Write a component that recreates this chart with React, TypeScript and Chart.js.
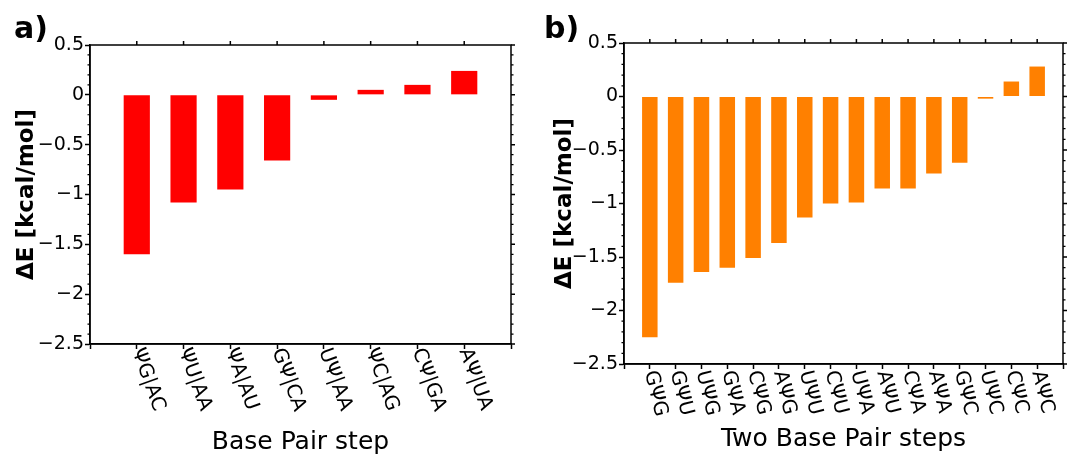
import React, { useEffect, useRef } from 'react';
import { Chart, registerables } from 'chart.js';

Chart.register(...registerables);

// ---------- data ----------
const stepsA = ['ΨG|AC', 'ΨU|AA', 'ΨA|AU', 'GΨ|CA', 'UΨ|AA', 'ΨC|AG', 'CΨ|GA', 'AΨ|UA'];
const energyA = [-1.6, -1.08, -0.95, -0.66, -0.05, 0.05, 0.1, 0.24];

const stepsB = ['GΨG', 'GΨU', 'UΨG', 'GΨA', 'CΨG', 'AΨG', 'UΨU', 'CΨU', 'UΨA', 'AΨU', 'CΨA', 'AΨA', 'GΨC', 'UΨC', 'CΨC', 'AΨC'];
const energyB = [-2.25, -1.74, -1.64, -1.6, -1.51, -1.37, -1.13, -1.0, -0.99, -0.86, -0.86, -0.72, -0.62, -0.02, 0.14, 0.28];

const yTicks = [0.5, 0, -0.5, -1, -1.5, -2, -2.5];
const yTitle = 'ΔE [kcal/mol]';
const xTitleA = 'Base Pair step';
const xTitleB = 'Two Base Pair steps';

const FONT = "'DejaVu Sans', sans-serif";

type Panel = {
  letter: string;
  categories: string[];
  values: number[];
  color: string;
  xTitle: string;
  width: number;
  barPct: number;
  yAxisWidth: number;
  xAxisHeight: number;
  padTop: number;
  padRight: number;
  yTitlePad: number;
  xTitlePad: number;
  labelRot: number;
  labelGap: number;
  labelSize: number;
  letterX: number;
  letterY: number;
};

const panelA: Panel = {
  letter: 'a)', categories: stepsA, values: energyA, color: '#ff0000', xTitle: xTitleA,
  width: 535, barPct: 0.56, yAxisWidth: 90, xAxisHeight: 114, padTop: 45, padRight: 24,
  yTitlePad: 13, xTitlePad: 1, labelRot: 70, labelGap: 5, labelSize: 20, letterX: 14, letterY: 38,
};
const panelB: Panel = {
  letter: 'b)', categories: stepsB, values: energyB, color: '#ff8000', xTitle: xTitleB,
  width: 537, barPct: 0.6, yAxisWidth: 89, xAxisHeight: 94, padTop: 43, padRight: 9,
  yTitlePad: 16, xTitlePad: 4, labelRot: 76, labelGap: 7, labelSize: 20, letterX: 9, letterY: 38,
};

const fmt = (v: number) => (v < 0 ? '\u2212' + String(Math.abs(v)) : String(v));

function makeFramePlugin(p: Panel) {
  return {
    id: 'frame_' + p.letter,
    afterDraw(chart: any) {
      const { ctx, chartArea } = chart;
      const xs = chart.scales.x;
      const ys = chart.scales.y;
      const { left, right, top, bottom } = chartArea;
      ctx.save();
      ctx.strokeStyle = '#000';
      ctx.lineWidth = 1.5;
      ctx.strokeRect(left, top, right - left, bottom - top);
      // top ticks (mirror of categories)
      ctx.beginPath();
      for (let i = 1; i <= p.categories.length; i++) {
        const x = xs.getPixelForValue(i);
        ctx.moveTo(x, top);
        ctx.lineTo(x, top - 4);
      }
      // right major ticks
      yTicks.forEach((v) => {
        const y = ys.getPixelForValue(v);
        ctx.moveTo(right, y);
        ctx.lineTo(right + 4, y);
      });
      ctx.stroke();
      // minor ticks every 0.1
      ctx.beginPath();
      ctx.lineWidth = 1.2;
      for (let k = -24; k <= 4; k++) {
        if (k % 5 === 0) continue;
        const y = ys.getPixelForValue(k / 10);
        ctx.moveTo(left, y);
        ctx.lineTo(left - 2.5, y);
        ctx.moveTo(right, y);
        ctx.lineTo(right + 2.5, y);
      }
      ctx.stroke();
      // rotated category labels (reading downward)
      ctx.fillStyle = '#000';
      ctx.font = `${p.labelSize}px ${FONT}`;
      ctx.textAlign = 'left';
      ctx.textBaseline = 'middle';
      p.categories.forEach((lab, i) => {
        const x = xs.getPixelForValue(i + 1);
        ctx.save();
        ctx.translate(x, bottom + p.labelGap);
        ctx.rotate((p.labelRot * Math.PI) / 180);
        ctx.fillText(lab, 0, 0);
        ctx.restore();
      });
      // panel letter
      ctx.font = `bold 30px ${FONT}`;
      ctx.textBaseline = 'alphabetic';
      ctx.fillText(p.letter, p.letterX, p.letterY);
      ctx.restore();
    },
  };
}

function BarPanel({ p }: { p: Panel }) {
  const ref = useRef<HTMLCanvasElement | null>(null);
  useEffect(() => {
    if (!ref.current) return;
    const labels = ['', ...p.categories, ''];
    const data = [null, ...p.values, null];
    const chart = new Chart(ref.current, {
      type: 'bar',
      data: {
        labels,
        datasets: [
          {
            data,
            backgroundColor: p.color,
            borderWidth: 0,
            barPercentage: p.barPct,
            categoryPercentage: 1,
          },
        ],
      },
      options: {
        responsive: false,
        animation: false,
        devicePixelRatio: 1,
        layout: { padding: { top: p.padTop, right: p.padRight, left: 0, bottom: 0 } },
        plugins: { legend: { display: false }, tooltip: { enabled: false } },
        scales: {
          x: {
            offset: false,
            grid: {
              offset: false,
              drawOnChartArea: false,
              drawTicks: true,
              tickLength: 5,
              tickColor: '#000',
              tickWidth: 1.5,
            },
            border: { display: true, color: '#000', width: 1.5 },
            ticks: { display: false },
            title: {
              display: true,
              text: p.xTitle,
              color: '#000',
              font: { family: FONT, size: 25 },
              padding: { top: 0, bottom: p.xTitlePad },
            },
            afterFit: (s: any) => {
              s.height = p.xAxisHeight;
            },
          },
          y: {
            min: -2.5,
            max: 0.5,
            afterBuildTicks: (s: any) => {
              s.ticks = yTicks.map((v) => ({ value: v }));
            },
            ticks: {
              callback: (v: any) => fmt(Number(v)),
              color: '#000',
              font: { family: FONT, size: 19 },
              padding: 1,
            },
            grid: {
              drawOnChartArea: false,
              drawTicks: true,
              tickLength: 5,
              tickColor: '#000',
              tickWidth: 1.5,
            },
            border: { display: true, color: '#000', width: 1.5 },
            title: {
              display: true,
              text: yTitle,
              color: '#000',
              font: { family: FONT, size: 23, weight: 'bold' },
              padding: { top: p.yTitlePad, bottom: 0 },
            },
            afterFit: (s: any) => {
              s.width = p.yAxisWidth;
            },
          },
        },
      } as any,
      plugins: [makeFramePlugin(p)],
    });
    return () => chart.destroy();
  }, [p]);
  return <canvas ref={ref} width={p.width} height={458} style={{ display: 'block', width: p.width, height: 458 }} />;
}

export default function App() {
  return (
    <div style={{ position: 'absolute', left: 0, top: 0, width: 1072, height: 458, background: '#fff', overflow: 'hidden' }}>
      <div style={{ position: 'absolute', left: 0, top: 0 }}>
        <BarPanel p={panelA} />
      </div>
      <div style={{ position: 'absolute', left: 535, top: 0 }}>
        <BarPanel p={panelB} />
      </div>
    </div>
  );
}
